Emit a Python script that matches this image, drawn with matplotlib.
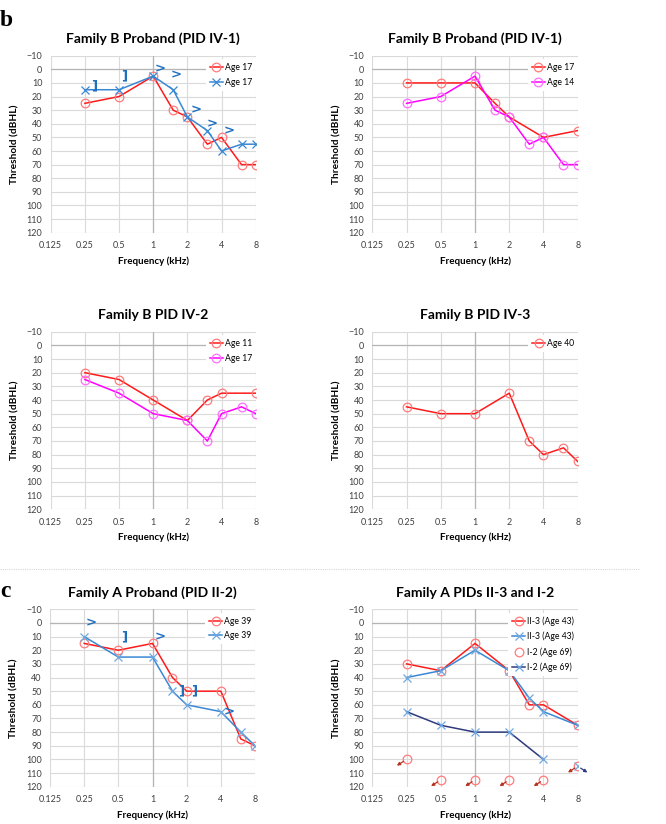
import matplotlib
matplotlib.use("Agg")
import matplotlib.pyplot as plt
from matplotlib.lines import Line2D

plt.rcParams['font.family'] = ['Lato', 'DejaVu Sans']

# ---------------- data ----------------
freq_ticks = [0.125, 0.25, 0.5, 1, 2, 4, 8]
freq_labels = ['0.125', '0.25', '0.5', '1', '2', '4', '8']
db_ticks = list(range(-10, 130, 10))

# Panel 1: Family B Proband (PID IV-1)
p1_freq = [0.25, 0.5, 1, 1.5, 2, 3, 4, 6, 8]
p1_red = [25, 20, 5, 30, 35, 55, 50, 70, 70]
p1_blue = [15, 15, 5, 15, 35, 45, 60, 55, 55]
p1_bc_freq = [0.30, 0.56, 1.16, 1.6, 2.4, 3.3, 4.7]
p1_bc_db = [12, 5, 0, 4, 30, 40, 45]
p1_bc_sym = [']', ']', '>', '>', '>', '>', '>']

# Panel 2: Family B Proband (PID IV-1)
p2_red_freq = [0.25, 0.5, 1, 1.5, 2, 4, 8]
p2_red = [10, 10, 10, 25, 35, 50, 45]
p2_mag_freq = [0.25, 0.5, 1, 1.5, 2, 3, 4, 6, 8]
p2_mag = [25, 20, 5, 30, 35, 55, 50, 70, 70]

# Panel 3: Family B PID IV-2
p3_red_freq = [0.25, 0.5, 1, 2, 3, 4, 8]
p3_red = [20, 25, 40, 55, 40, 35, 35]
p3_mag_freq = [0.25, 0.5, 1, 2, 3, 4, 6, 8]
p3_mag = [25, 35, 50, 55, 70, 50, 45, 50]

# Panel 4: Family B PID IV-3
p4_freq = [0.25, 0.5, 1, 2, 3, 4, 6, 8]
p4_red = [45, 50, 50, 35, 70, 80, 75, 85]

# Panel 5: Family A Proband (PID II-2)
p5_freq = [0.25, 0.5, 1, 1.5, 2, 4, 6, 8]
p5_red = [15, 20, 15, 40, 50, 50, 85, 90]
p5_blue = [10, 25, 25, 50, 60, 65, 80, 90]
p5_bc_freq = [0.29, 0.56, 1.18, 1.77, 2.33, 4.75]
p5_bc_db = [0, 10, 10, 50, 50, 65]
p5_bc_sym = ['>', ']', '>', ']', ']', '>']

# Panel 6: Family A PIDs II-3 and I-2
p6_freq = [0.25, 0.5, 1, 2, 3, 4, 8]
p6_ii3_red = [30, 35, 15, 35, 60, 60, 75]
p6_ii3_blue = [40, 35, 20, 35, 55, 65, 75]
p6_i2_nr_freq = [0.25, 0.5, 1, 2, 4, 8]
p6_i2_nr = [100, 115, 115, 115, 115, 105]
p6_i2_navy_freq = [0.25, 0.5, 1, 2, 4]
p6_i2_navy = [65, 75, 80, 80, 100]
p6_i2_navy_nr_freq = [8]
p6_i2_navy_nr = [105]

# ---------------- styles ----------------
RED = '#FF1A1A'
RED_M = '#FF7B7B'
MAG = '#FF00FF'
MAG_M = '#FF6EFF'
BLUE = '#3A88D4'
BLUE_M = '#6FA8E0'
NAVY = '#2D3A7E'
BC = '#1F6FBF'
ARROW_RED = '#B5321F'
GRID = '#DADADA'
AXISLINE = '#B5B5B5'
TICKC = '#404040'

W, H = 666, 824
fig = plt.figure(figsize=(W / 100, H / 100), dpi=100)


def make_ax(x0, x1, ytop, ybot, title):
    ax = fig.add_axes([x0 / W, 1 - ybot / H, (x1 - x0) / W, (ybot - ytop) / H])
    ax.set_xscale('log', base=2)
    ax.set_xlim(0.125, 8)
    ax.set_ylim(120, -10)
    ax.set_xticks(freq_ticks)
    ax.set_xticklabels(freq_labels)
    ax.minorticks_off()
    ax.set_yticks(db_ticks)
    ax.tick_params(length=0, labelsize=6.5, colors=TICKC, pad=6)
    ax.grid(True, color=GRID, lw=0.8)
    for s in ax.spines.values():
        s.set_visible(False)
    ax.axvline(1, color=AXISLINE, lw=0.9, zorder=1)
    ax.axhline(0, color=AXISLINE, lw=0.9, zorder=1)
    ax.set_axisbelow(True)
    ax.set_title(title, fontsize=10, fontweight='bold', pad=9)
    ax.set_xlabel('Frequency (kHz)', fontsize=7, fontweight='bold', labelpad=4.5)
    ax.set_ylabel('Threshold (dBHL)', fontsize=7.3, fontweight='bold', labelpad=5)
    return ax


def circ(ax, f, v, col, mcol, label):
    ax.plot(f, v, color=col, lw=1.1, marker='o', ms=6.2, mfc='none', mec=mcol,
            mew=0.9, label=label, zorder=3)


def cross(ax, f, v, col, mcol, label):
    ax.plot(f, v, color=col, lw=1.1, marker='x', ms=5.5, mec=mcol,
            mew=0.9, label=label, zorder=3)


def bc(ax, f, v, s):
    for fi, vi, si in zip(f, v, s):
        ax.text(fi, vi, si, color=BC, fontsize=9.5, fontweight='bold',
                ha='center', va='center', family='DejaVu Sans', zorder=4)


def legend(ax, **kw):
    leg = ax.legend(loc='upper right', fontsize=6.2, frameon=True, fancybox=False,
                    framealpha=1, edgecolor='white', handlelength=1.5,
                    handletextpad=0.2, borderpad=0.45, labelspacing=0.65,
                    borderaxespad=0.0, bbox_to_anchor=(1.0, 0.98), **kw)
    leg.get_frame().set_linewidth(0)
    return leg


def nr_arrows(ax, f, v, col, dx):
    for fi, vi in zip(f, v):
        ax.annotate('', xy=(fi, vi), xytext=(dx, -4.5), textcoords='offset points',
                    xycoords='data',
                    arrowprops=dict(arrowstyle='<|-', color=col, lw=0.9,
                                    shrinkA=0, shrinkB=2.5, mutation_scale=4.5))


LX0, LX1 = 50.7, 255.7
RX0, RX1 = 372.3, 577.7

# Panel 1
ax1 = make_ax(LX0, LX1, 55.7, 232.7, 'Family B Proband (PID IV-1)')
circ(ax1, p1_freq, p1_red, RED, RED_M, 'Age 17')
cross(ax1, p1_freq, p1_blue, BLUE, BLUE, 'Age 17')
bc(ax1, p1_bc_freq, p1_bc_db, p1_bc_sym)
legend(ax1)

# Panel 2
ax2 = make_ax(RX0, RX1, 55.7, 232.7, 'Family B Proband (PID IV-1)')
circ(ax2, p2_red_freq, p2_red, RED, RED_M, 'Age 17')
circ(ax2, p2_mag_freq, p2_mag, MAG, MAG_M, 'Age 14')
legend(ax2)

# Panel 3
ax3 = make_ax(LX0, LX1, 331.7, 509.3, 'Family B PID IV-2')
circ(ax3, p3_red_freq, p3_red, RED, RED_M, 'Age 11')
circ(ax3, p3_mag_freq, p3_mag, MAG, MAG_M, 'Age 17')
legend(ax3)

# Panel 4
ax4 = make_ax(RX0, RX1, 331.7, 509.3, 'Family B PID IV-3')
circ(ax4, p4_freq, p4_red, RED, RED_M, 'Age 40')
legend(ax4)

# Panel 5
ax5 = make_ax(50.0, 255.0, 609.3, 786.7, 'Family A Proband (PID II-2)')
circ(ax5, p5_freq, p5_red, RED, RED_M, 'Age 39')
cross(ax5, p5_freq, p5_blue, BLUE, BLUE_M, 'Age 39')
bc(ax5, p5_bc_freq, p5_bc_db, p5_bc_sym)
legend(ax5)

# Panel 6
ax6 = make_ax(RX0, RX1, 609.3, 786.7, 'Family A PIDs II-3 and I-2')
circ(ax6, p6_freq, p6_ii3_red, RED, RED_M, 'II-3 (Age 43)')
cross(ax6, p6_freq, p6_ii3_blue, BLUE, BLUE_M, 'II-3 (Age 43)')
ax6.plot(p6_i2_nr_freq, p6_i2_nr, ls='none', marker='o', ms=6.2, mfc='none',
         mec=RED_M, mew=0.9, label='I-2 (Age 69)', zorder=3)
cross(ax6, p6_i2_navy_freq, p6_i2_navy, NAVY, BLUE_M, 'I-2 (Age 69)')
ax6.plot(p6_i2_navy_nr_freq, p6_i2_navy_nr, ls='none', marker='x', ms=5.5,
         mec=BLUE_M, mew=0.9, zorder=3)
nr_arrows(ax6, p6_i2_nr_freq, p6_i2_nr, ARROW_RED, -7)
nr_arrows(ax6, p6_i2_navy_nr_freq, p6_i2_navy_nr, NAVY, 7)
legend(ax6)

# panel letters
fig.text(0.0, 1 - 26 / H, 'b', fontsize=17, fontweight='bold',
         family='Liberation Serif', ha='left', va='baseline')
fig.text(0.0, 1 - 597 / H, 'c', fontsize=17, fontweight='bold',
         family='Liberation Serif', ha='left', va='baseline')

# separator
fig.add_artist(Line2D([0, 640 / W], [1 - 569 / H, 1 - 569 / H], color='#D8D8D8',
                      lw=0.8, ls=(0, (1, 1))))

fig.savefig('out.png', dpi=100)
